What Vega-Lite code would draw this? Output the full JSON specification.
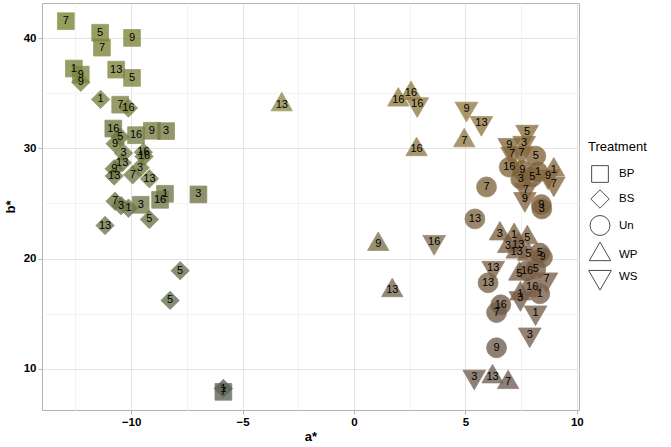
{
  "$schema": "https://vega.github.io/schema/vega-lite/v6.json",
  "description": "Colour coordinates a* and b* by treatment, labelled with sampling day",
  "width": 537,
  "height": 407,
  "autosize": {"type": "none"},
  "padding": {"left": 42, "top": 3, "right": 92, "bottom": 37},
  "background": "white",
  "data": {
    "values": [
      {"trt": "BP", "day": 7, "a": -12.93, "b": 41.55, "L": 53},
      {"trt": "BP", "day": 5, "a": -11.39, "b": 40.5, "L": 53},
      {"trt": "BP", "day": 7, "a": -11.31, "b": 39.15, "L": 53},
      {"trt": "BP", "day": 9, "a": -9.96, "b": 40.03, "L": 53},
      {"trt": "BP", "day": 1, "a": -12.57, "b": 37.25, "L": 53},
      {"trt": "BP", "day": 9, "a": -12.26, "b": 36.7, "L": 53},
      {"trt": "BP", "day": 13, "a": -10.67, "b": 37.15, "L": 53},
      {"trt": "BP", "day": 5, "a": -9.96, "b": 36.4, "L": 53},
      {"trt": "BP", "day": 7, "a": -10.49, "b": 33.97, "L": 52},
      {"trt": "BP", "day": 16, "a": -10.8, "b": 31.8, "L": 48},
      {"trt": "BP", "day": 16, "a": -9.78, "b": 31.2, "L": 51},
      {"trt": "BP", "day": 9, "a": -9.07, "b": 31.6, "L": 51},
      {"trt": "BP", "day": 3, "a": -8.43, "b": 31.57, "L": 50},
      {"trt": "BP", "day": 1, "a": -8.48, "b": 25.88, "L": 49},
      {"trt": "BP", "day": 16, "a": -8.7, "b": 25.33, "L": 49},
      {"trt": "BP", "day": 3, "a": -6.98, "b": 25.82, "L": 47},
      {"trt": "BP", "day": 3, "a": -9.57, "b": 24.88, "L": 49},
      {"trt": "BP", "day": 7, "a": -5.86, "b": 7.9, "L": 41},
      {"trt": "BS", "day": 9, "a": -12.26, "b": 36.0, "L": 53},
      {"trt": "BS", "day": 1, "a": -11.37, "b": 34.45, "L": 52},
      {"trt": "BS", "day": 16, "a": -10.12, "b": 33.66, "L": 52},
      {"trt": "BS", "day": 5, "a": -10.49, "b": 31.03, "L": 48},
      {"trt": "BS", "day": 9, "a": -10.72, "b": 30.43, "L": 50},
      {"trt": "BS", "day": 3, "a": -10.34, "b": 29.57, "L": 50},
      {"trt": "BS", "day": 16, "a": -9.45, "b": 29.66, "L": 50},
      {"trt": "BS", "day": 16, "a": -9.42, "b": 29.27, "L": 49},
      {"trt": "BS", "day": 13, "a": -10.4, "b": 28.7, "L": 49},
      {"trt": "BS", "day": 9, "a": -10.76, "b": 28.15, "L": 48},
      {"trt": "BS", "day": 13, "a": -10.76, "b": 27.5, "L": 48},
      {"trt": "BS", "day": 7, "a": -9.93, "b": 27.6, "L": 50},
      {"trt": "BS", "day": 3, "a": -9.6, "b": 28.25, "L": 50},
      {"trt": "BS", "day": 13, "a": -9.18, "b": 27.25, "L": 50},
      {"trt": "BS", "day": 7, "a": -10.72, "b": 25.2, "L": 48},
      {"trt": "BS", "day": 3, "a": -10.45, "b": 24.8, "L": 47},
      {"trt": "BS", "day": 1, "a": -10.12, "b": 24.57, "L": 47},
      {"trt": "BS", "day": 5, "a": -9.18, "b": 23.55, "L": 48},
      {"trt": "BS", "day": 13, "a": -11.17, "b": 23.0, "L": 48},
      {"trt": "BS", "day": 5, "a": -7.8, "b": 18.9, "L": 45},
      {"trt": "BS", "day": 5, "a": -8.25, "b": 16.2, "L": 45},
      {"trt": "BS", "day": 1, "a": -5.86, "b": 8.2, "L": 41},
      {"trt": "Un", "day": 7, "a": 5.95, "b": 26.5, "L": 45},
      {"trt": "Un", "day": 13, "a": 5.43, "b": 23.6, "L": 45},
      {"trt": "Un", "day": 13, "a": 6.02, "b": 17.8, "L": 43},
      {"trt": "Un", "day": 16, "a": 6.59, "b": 15.8, "L": 41},
      {"trt": "Un", "day": 7, "a": 6.4, "b": 15.1, "L": 41},
      {"trt": "Un", "day": 5, "a": 8.16, "b": 29.3, "L": 45},
      {"trt": "Un", "day": 16, "a": 6.97, "b": 28.3, "L": 45},
      {"trt": "Un", "day": 9, "a": 7.56, "b": 28.0, "L": 43},
      {"trt": "Un", "day": 3, "a": 7.49, "b": 27.2, "L": 43},
      {"trt": "Un", "day": 5, "a": 8.0, "b": 27.4, "L": 44},
      {"trt": "Un", "day": 1, "a": 8.26, "b": 27.85, "L": 44},
      {"trt": "Un", "day": 9, "a": 8.41, "b": 24.9, "L": 43},
      {"trt": "Un", "day": 3, "a": 8.43, "b": 24.5, "L": 42},
      {"trt": "Un", "day": 5, "a": 8.34, "b": 20.5, "L": 42},
      {"trt": "Un", "day": 9, "a": 8.46, "b": 20.1, "L": 42},
      {"trt": "Un", "day": 16, "a": 7.77, "b": 18.9, "L": 42},
      {"trt": "Un", "day": 5, "a": 8.16, "b": 19.06, "L": 42},
      {"trt": "Un", "day": 16, "a": 8.0, "b": 17.4, "L": 42},
      {"trt": "Un", "day": 1, "a": 8.34, "b": 16.8, "L": 42},
      {"trt": "Un", "day": 9, "a": 6.4, "b": 11.9, "L": 41},
      {"trt": "WP", "day": 13, "a": -3.24, "b": 33.97, "L": 56},
      {"trt": "WP", "day": 16, "a": 1.99, "b": 34.4, "L": 53},
      {"trt": "WP", "day": 16, "a": 2.56, "b": 35.0, "L": 53},
      {"trt": "WP", "day": 7, "a": 4.95, "b": 30.7, "L": 53},
      {"trt": "WP", "day": 16, "a": 2.81, "b": 29.9, "L": 52},
      {"trt": "WP", "day": 9, "a": 1.09, "b": 21.3, "L": 48},
      {"trt": "WP", "day": 13, "a": 1.72, "b": 17.1, "L": 45},
      {"trt": "WP", "day": 3, "a": 6.55, "b": 22.25, "L": 44},
      {"trt": "WP", "day": 1, "a": 7.19, "b": 22.1, "L": 44},
      {"trt": "WP", "day": 5, "a": 7.78, "b": 21.9, "L": 44},
      {"trt": "WP", "day": 3, "a": 6.92, "b": 21.1, "L": 43},
      {"trt": "WP", "day": 13, "a": 7.37, "b": 21.25, "L": 43},
      {"trt": "WP", "day": 13, "a": 7.3, "b": 20.6, "L": 43},
      {"trt": "WP", "day": 5, "a": 7.82, "b": 20.4, "L": 43},
      {"trt": "WP", "day": 5, "a": 7.42, "b": 18.6, "L": 43},
      {"trt": "WP", "day": 1, "a": 8.97, "b": 28.05, "L": 47},
      {"trt": "WP", "day": 1, "a": 7.47, "b": 16.8, "L": 42},
      {"trt": "WP", "day": 13, "a": 6.22, "b": 9.27, "L": 41},
      {"trt": "WP", "day": 7, "a": 6.92, "b": 8.75, "L": 41},
      {"trt": "WS", "day": 16, "a": 2.84, "b": 34.0, "L": 53},
      {"trt": "WS", "day": 9, "a": 5.05, "b": 33.6, "L": 53},
      {"trt": "WS", "day": 13, "a": 5.72, "b": 32.3, "L": 52},
      {"trt": "WS", "day": 16, "a": 3.6, "b": 21.5, "L": 48},
      {"trt": "WS", "day": 13, "a": 6.25, "b": 19.15, "L": 44},
      {"trt": "WS", "day": 5, "a": 7.77, "b": 31.5, "L": 48},
      {"trt": "WS", "day": 9, "a": 6.97, "b": 30.3, "L": 47},
      {"trt": "WS", "day": 3, "a": 7.64, "b": 30.5, "L": 47},
      {"trt": "WS", "day": 7, "a": 7.1, "b": 29.5, "L": 46},
      {"trt": "WS", "day": 7, "a": 7.52, "b": 29.6, "L": 46},
      {"trt": "WS", "day": 9, "a": 8.71, "b": 27.45, "L": 46},
      {"trt": "WS", "day": 7, "a": 8.97, "b": 26.8, "L": 46},
      {"trt": "WS", "day": 7, "a": 7.71, "b": 26.25, "L": 45},
      {"trt": "WS", "day": 9, "a": 7.67, "b": 25.4, "L": 45},
      {"trt": "WS", "day": 7, "a": 8.64, "b": 18.1, "L": 43},
      {"trt": "WS", "day": 3, "a": 7.47, "b": 16.4, "L": 42},
      {"trt": "WS", "day": 1, "a": 8.15, "b": 15.1, "L": 42},
      {"trt": "WS", "day": 3, "a": 7.89, "b": 13.1, "L": 42},
      {"trt": "WS", "day": 3, "a": 5.4, "b": 9.27, "L": 41}
    ]
  },
  "transform": [
    {"calculate": "'' + lab(datum.L, datum.a, datum.b)", "as": "swatch"}
  ],
  "encoding": {
    "x": {
      "field": "a",
      "type": "quantitative",
      "title": "a*",
      "scale": {"domain": [-14.0, 10.1], "nice": false, "zero": false},
      "axis": {
        "values": [-12.5, -10, -7.5, -5, -2.5, 0, 2.5, 5, 7.5, 10],
        "labelExpr": "datum.value % 5 === 0 ? format(datum.value, 'd') : ''",
        "tickOpacity": {"condition": {"test": "datum.value % 5 !== 0", "value": 0}, "value": 1},
        "gridColor": {"condition": {"test": "datum.value % 5 !== 0", "value": "#f3f3f3"}, "value": "#e4e4e4"},
        "titlePadding": 3
      }
    },
    "y": {
      "field": "b",
      "type": "quantitative",
      "title": "b*",
      "scale": {"domain": [6.25, 43.2], "nice": false, "zero": false},
      "axis": {
        "values": [10, 15, 20, 25, 30, 35, 40],
        "labelExpr": "datum.value % 10 === 0 ? format(datum.value, 'd') : ''",
        "tickOpacity": {"condition": {"test": "datum.value % 10 !== 0", "value": 0}, "value": 1},
        "gridColor": {"condition": {"test": "datum.value % 10 !== 0", "value": "#f3f3f3"}, "value": "#e4e4e4"},
        "titlePadding": 6
      }
    }
  },
  "layer": [
    {
      "mark": {"type": "point", "filled": true, "opacity": 0.78, "strokeWidth": 0.8},
      "encoding": {
        "color": {"field": "swatch", "type": "nominal", "scale": null, "legend": null},
        "stroke": {"field": "swatch", "type": "nominal", "scale": null, "legend": null},
        "shape": {
          "field": "trt",
          "type": "nominal",
          "title": "Treatment",
          "scale": {
            "domain": ["BP", "BS", "Un", "WP", "WS"],
            "range": ["square", "diamond", "circle", "M0,-1.155L1,0.577L-1,0.577Z", "M0,1.155L1,-0.577L-1,-0.577Z"]
          }
        },
        "size": {
          "field": "trt",
          "type": "nominal",
          "title": "Treatment",
          "scale": {"domain": ["BP", "BS", "Un", "WP", "WS"], "range": [280, 515, 360, 600, 600]}
        }
      }
    },
    {
      "mark": {"type": "text", "fontSize": 11, "color": "black", "align": "center", "baseline": "middle"},
      "encoding": {"text": {"field": "day", "type": "nominal"}}
    }
  ],
  "config": {
    "font": "Liberation Sans",
    "view": {"stroke": "#b3b3b3", "strokeWidth": 1},
    "axis": {
      "domain": false,
      "tickColor": "#b3b3b3",
      "tickSize": 4,
      "labelFontSize": 11.5,
      "labelFontWeight": "bold",
      "labelColor": "black",
      "labelPadding": 2,
      "titleFontSize": 13,
      "titleFontWeight": "bold",
      "titleColor": "black"
    },
    "legend": {
      "orient": "none",
      "legendX": 546,
      "legendY": 138,
      "titleFontSize": 13,
      "titleFontWeight": "normal",
      "titleColor": "black",
      "titlePadding": 11,
      "labelFontSize": 11.5,
      "labelColor": "black",
      "labelOffset": 7,
      "rowPadding": 2,
      "symbolStrokeColor": "#4d4d4d",
      "symbolStrokeWidth": 1,
      "symbolFillColor": "transparent",
      "symbolOpacity": 1
    }
  }
}
